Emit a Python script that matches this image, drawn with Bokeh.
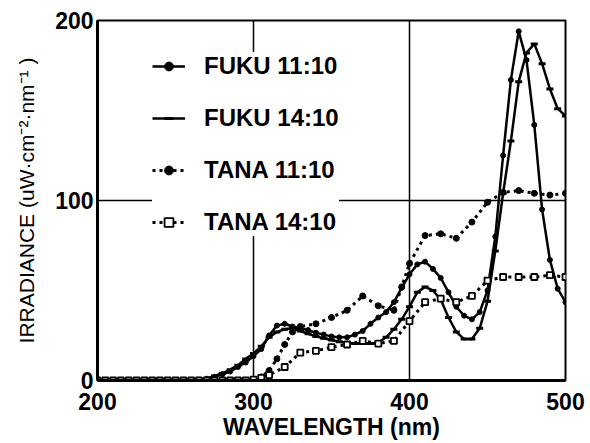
from bokeh.plotting import figure
from bokeh.models import Legend, LegendItem, Span, FixedTicker, Range1d
from bokeh.embed import file_html
from bokeh.resources import INLINE

# ---------------- data ----------------
fuku_nm = [200, 205, 210, 215, 220, 225, 230, 235, 240, 245, 250, 255, 260,
           265, 270, 275, 280, 285, 290, 295, 300, 305, 310, 315, 320, 325,
           330, 335, 340, 345, 350, 355, 360, 365, 370, 375, 380, 385, 390,
           395, 400, 405, 410, 415, 420, 425, 430, 435, 440, 445, 450, 455,
           460, 465, 470, 475, 480, 485, 490, 495, 500]

fuku_1110 = [0, 0, 0, 0, 0, 0, 0, 0, 0, 0, 0, 0, 0,
             0.5, 1, 2, 3.5, 5, 7.5, 10, 13.5, 17.5, 25, 30.5, 31.5, 30,
             29, 28, 26.5, 25.5, 24.5, 24, 24, 25.5, 27.5, 31.5, 35, 38, 43.5,
             51.5, 59, 64.5, 66, 62, 57, 49, 41, 36, 34, 38, 50, 80,
             125, 167, 194, 178, 142, 95, 67, 51, 43.5]

fuku_1410 = [0, 0, 0, 0, 0, 0, 0, 0, 0, 0, 0, 0, 0,
             0.5, 1, 2.5, 4, 6, 8.5, 12, 15, 19, 24, 27, 28.5, 29,
             27.5, 26, 24.5, 23.5, 22.5, 21.5, 21, 20.5, 20.5, 20.5, 21, 24, 28.5,
             34, 41, 49, 52, 50, 45, 35, 27, 23, 23, 29, 44, 72,
             104, 133, 166, 182, 187, 176, 162, 151, 147]

tana_1110_nm = [200, 205, 210, 215, 220, 225, 230, 235, 240, 245, 250, 255, 260,
                265, 270, 275, 280, 285, 290, 295, 300, 305, 310, 315, 320, 325,
                330, 340, 350, 360, 370, 380, 390, 395, 400, 410, 420, 430, 440,
                450, 460, 470, 480, 490, 500]
tana_1110 = [0, 0, 0, 0, 0, 0, 0, 0, 0, 0, 0, 0, 0,
             0, 0, 0, 0, 0, 0, 0, 0.5, 2, 5.5, 12, 20, 27,
             30, 31.5, 35, 39, 47, 41.5, 39, 52, 65, 80.5, 81.5, 79, 88,
             99, 104.5, 105.5, 104, 103, 104]

tana_1410_nm = [200, 205, 210, 215, 220, 225, 230, 235, 240, 245, 250, 255, 260,
                265, 270, 275, 280, 285, 290, 295, 300, 305, 310, 320, 330,
                340, 350, 360, 370, 380, 390, 400, 410, 420, 430, 440, 450,
                460, 470, 480, 490, 500]
tana_1410 = [0, 0, 0, 0, 0, 0, 0, 0, 0, 0, 0, 0, 0,
             0, 0, 0, 0, 0, 0, 0, 0.5, 1.5, 3, 7.5, 15.5,
             16.5, 18.5, 20, 22, 20.5, 22, 33, 43.5, 45.5, 43.5, 47, 55.5,
             57.5, 57.5, 57.5, 58.5, 57.5]

x_ticks = [200, 300, 400, 500]
y_ticks = [0, 100, 200]
x_grid = [300, 400]
y_grid = [100]
x_title = "WAVELENGTH (nm)"
y_title = "IRRADIANCE (uW·cm⁻²·nm⁻¹ )"

# ---------------- figure ----------------
FONT = "Liberation Sans"
p = figure(width=590, height=443, output_backend="svg", toolbar_location=None,
           x_range=Range1d(200, 500), y_range=Range1d(0, 200),
           min_border_left=97, min_border_right=25, min_border_top=20,
           min_border_bottom=63)
p.background_fill_color = "white"
p.border_fill_color = "white"
p.outline_line_color = "black"
p.outline_line_width = 2
p.grid.visible = False

for v in x_grid:
    p.add_layout(Span(location=v, dimension="height", line_color="black",
                      line_width=1.5, level="underlay"))
for v in y_grid:
    p.add_layout(Span(location=v, dimension="width", line_color="black",
                      line_width=1.5, level="underlay"))

for ax in (p.xaxis[0], p.yaxis[0]):
    ax.axis_line_width = 3
    ax.axis_line_color = "black"
    ax.major_tick_line_color = None
    ax.minor_tick_line_color = None
    ax.major_tick_out = 0
    ax.major_tick_in = 0
    ax.major_label_text_font = FONT
    ax.major_label_text_font_style = "bold"
    ax.major_label_text_font_size = "23px"
    ax.major_label_text_color = "black"
    ax.axis_label_text_font = FONT
    ax.axis_label_text_color = "black"

p.xaxis[0].ticker = FixedTicker(ticks=x_ticks)
p.yaxis[0].ticker = FixedTicker(ticks=y_ticks)
p.xaxis[0].axis_label = x_title
p.xaxis[0].axis_label_text_font_style = "bold"
p.xaxis[0].axis_label_text_font_size = "23px"
p.xaxis[0].major_label_standoff = 12
p.xaxis[0].axis_label_standoff = 1
p.yaxis[0].axis_label = y_title
p.yaxis[0].axis_label_text_font_style = "normal"
p.yaxis[0].axis_label_text_font_size = "21px"
p.yaxis[0].major_label_standoff = 4
p.yaxis[0].axis_label_standoff = 14

# series
l1 = p.line(fuku_nm, fuku_1110, line_color="black", line_width=2.5)
s1 = p.scatter(fuku_nm, fuku_1110, marker="circle", size=5, color="black")

l2 = p.line(fuku_nm, fuku_1410, line_color="black", line_width=2.5)
s2 = p.scatter(fuku_nm, fuku_1410, marker="dash", size=7, line_width=3,
               line_color="black")

l3 = p.line(tana_1110_nm, tana_1110, line_color="black", line_width=3,
            line_dash="3 4")
s3 = p.scatter(tana_1110_nm, tana_1110, marker="circle", size=6, color="black")

l4 = p.line(tana_1410_nm, tana_1410, line_color="black", line_width=3,
            line_dash="3 4")
s4 = p.scatter(tana_1410_nm, tana_1410, marker="square", size=6,
               fill_color="white", line_color="black", line_width=1.8)

legend = Legend(items=[
    LegendItem(label="FUKU 11:10", renderers=[l1, s1]),
    LegendItem(label="FUKU 14:10", renderers=[l2, s2]),
    LegendItem(label="TANA 11:10", renderers=[l3, s3]),
    LegendItem(label="TANA 14:10", renderers=[l4, s4]),
], location=(55, 144))
legend.background_fill_color = "white"
legend.background_fill_alpha = 1.0
legend.border_line_color = None
legend.label_text_font = FONT
legend.label_text_font_style = "bold"
legend.label_text_font_size = "24px"
legend.label_text_color = "black"
legend.glyph_width = 33
legend.glyph_height = 22
legend.label_height = 22
legend.label_standoff = 19
legend.spacing = 24
legend.padding = 10
legend.margin = 0
p.add_layout(legend)

open("out.html", "w").write(file_html(p, INLINE))
